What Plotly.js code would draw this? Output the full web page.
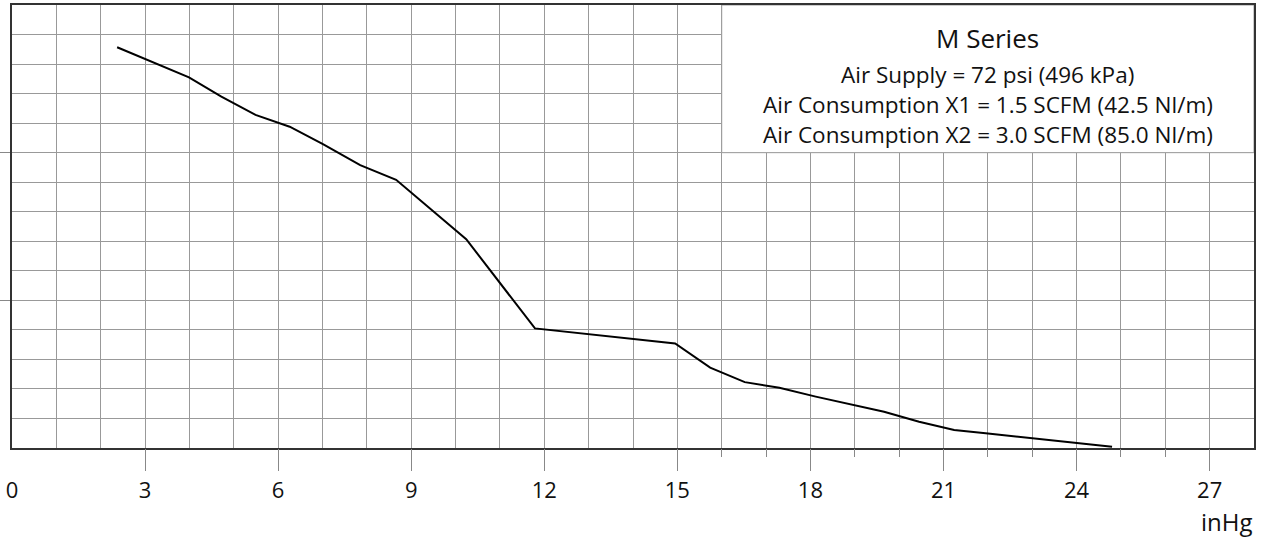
<!DOCTYPE html>
<html>
<head>
<meta charset="utf-8">
<script src="https://cdn.plot.ly/plotly-3.0.1.min.js"></script>
<style>html,body{margin:0;padding:0;background:#fff;}#chart{width:1269px;height:543px;}</style>
</head>
<body>
<div id="chart"></div>
<script>
// Vacuum level (inHg) vs. relative value
const vacuumInHg = [2.37, 3.99, 4.72, 5.49, 6.26, 7.01, 7.85, 8.66, 10.24, 11.79, 14.95, 15.74, 16.52, 17.3, 18.12, 19.66, 20.45, 21.24, 21.95, 24.8];
const curveValues = [13.57, 12.55, 11.9, 11.28, 10.88, 10.29, 9.58, 9.08, 7.07, 4.05, 3.54, 2.72, 2.23, 2.04, 1.74, 1.23, 0.89, 0.61, 0.5, 0.04];
const xTickValues = [0, 3, 6, 9, 12, 15, 18, 21, 24, 27];
const xTickLabels = ["0", "3", "6", "9", "12", "15", "18", "21", "24", "27"];
const xLongTicks = [3, 6, 9, 12, 15, 18, 21, 24, 27];
const xShortTicks = [16, 17, 19, 20, 22, 23, 25, 26];
const yTickValues = [5, 10];
const xUnit = "inHg";
const infoTitle = "M Series";
const infoLines = ["Air Supply = 72 psi (496 kPa)", "Air Consumption X1 = 1.5 SCFM (42.5 Nl/m)", "Air Consumption X2 = 3.0 SCFM (85.0 Nl/m)"];

const FONT = "Open Sans, sans-serif";
const GRID = "#999999";
const TICK = "#888888";

const traces = [
  {x: vacuumInHg, y: curveValues, type: "scatter", mode: "lines",
   line: {color: "#000", width: 2}, hoverinfo: "skip", showlegend: false},
  {x: [xLongTicks[0]], y: [0], xaxis: "x2", type: "scatter", mode: "markers",
   marker: {opacity: 0}, hoverinfo: "skip", showlegend: false},
  {x: [xShortTicks[0]], y: [0], xaxis: "x3", type: "scatter", mode: "markers",
   marker: {opacity: 0}, hoverinfo: "skip", showlegend: false}
];

const infoY = [12.63, 11.62, 10.61];
const annotations = [
  {xref: "x", yref: "y", x: 22, y: 13.87, text: infoTitle, showarrow: false,
   font: {family: FONT, size: 26, color: "#111"}}
].concat(infoLines.map((t, i) => ({
  xref: "x", yref: "y", x: 22, y: infoY[i], text: t, showarrow: false,
  font: {family: FONT, size: 22.5, color: "#111"}
}))).concat([
  {xref: "paper", yref: "paper", x: 1.001, xanchor: "right", y: -0.165, yanchor: "middle",
   text: xUnit, showarrow: false, font: {family: FONT, size: 24, color: "#111"}}
]);

const overlayAxis = (vals, len) => ({
  overlaying: "x", range: [0, 28], side: "bottom", anchor: "y",
  tickmode: "array", tickvals: vals, ticktext: vals.map(() => ""), ticks: "outside", ticklen: len,
  tickwidth: 1, tickcolor: TICK, showticklabels: false, showgrid: false,
  zeroline: false, showline: false, fixedrange: true
});

const layout = {
  width: 1269, height: 543,
  margin: {l: 12, r: 15, t: 5, b: 95},
  paper_bgcolor: "#fff", plot_bgcolor: "#fff",
  showlegend: false,
  xaxis: {
    range: [0, 28], tickmode: "array", tickvals: xTickValues, ticktext: xTickLabels,
    ticks: "outside", ticklen: 22, tickwidth: 1, tickcolor: "rgba(0,0,0,0)",
    showgrid: true, gridcolor: GRID, gridwidth: 1,
    minor: {tickmode: "linear", tick0: 0, dtick: 1, showgrid: true, gridcolor: GRID, gridwidth: 1, ticks: ""},
    showline: true, linecolor: "#333", linewidth: 2, mirror: true,
    zeroline: false, fixedrange: true,
    tickfont: {family: FONT, size: 22, color: "#111"}
  },
  xaxis2: overlayAxis(xLongTicks, 22),
  xaxis3: overlayAxis(xShortTicks, 8),
  yaxis: {
    range: [0, 15], tickmode: "array", tickvals: yTickValues, showticklabels: false,
    ticks: "outside", ticklen: 12, tickwidth: 1, tickcolor: TICK,
    showgrid: true, gridcolor: GRID, gridwidth: 1,
    minor: {tickmode: "linear", tick0: 0, dtick: 1, showgrid: true, gridcolor: GRID, gridwidth: 1, ticks: ""},
    showline: true, linecolor: "#333", linewidth: 2, mirror: true,
    zeroline: false, fixedrange: true
  },
  shapes: [
    {type: "rect", xref: "x", yref: "y", x0: 16, x1: 28, y0: 10, y1: 15,
     fillcolor: "#fff", line: {color: GRID, width: 1}, layer: "above"}
  ],
  annotations: annotations
};

Plotly.newPlot("chart", traces, layout, {displayModeBar: false, staticPlot: true});
</script>
</body>
</html>
